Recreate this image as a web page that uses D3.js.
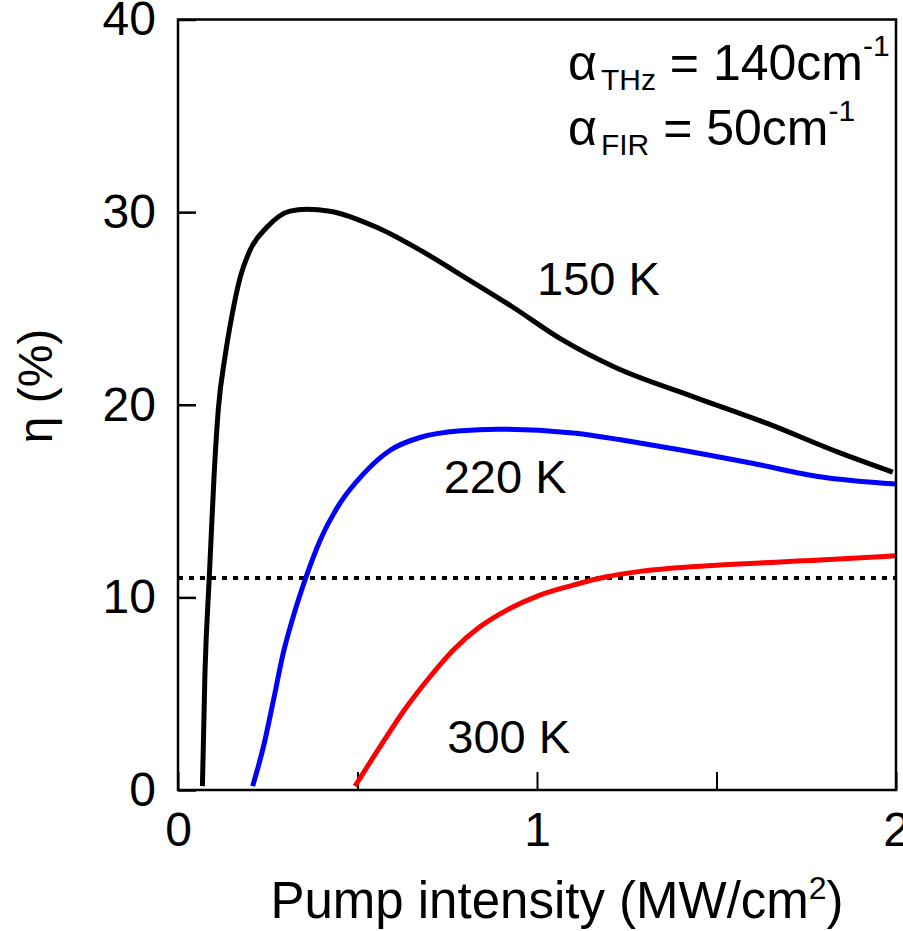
<!DOCTYPE html>
<html>
<head>
<meta charset="utf-8">
<script src="https://cdn.jsdelivr.net/npm/d3@7"></script>
<style>
  body { margin: 0; background: #fff; }
  svg { display: block; font-family: "Liberation Sans", Arial, sans-serif; }
</style>
</head>
<body>
<svg id="chart" width="903" height="931"></svg>
<script>
// ---- data ----
const xTicks = [0, 0.5, 1, 1.5, 2];
const xTickLabels = ["0", "", "1", "", "2"];
const yTicks = [0, 10, 20, 30, 40];
const yTickLabels = ["0", "10", "20", "30", "40"];

const curve150K = [
  [0.068, 0.2], [0.075, 6.0], [0.087, 11.0], [0.092, 13.0], [0.101, 16.5],
  [0.112, 19.7], [0.131, 22.5], [0.150, 24.6], [0.173, 26.6], [0.200, 28.0],
  [0.247, 29.2], [0.312, 30.05], [0.358, 30.15], [0.423, 30.05], [0.555, 29.2],
  [0.677, 28.0], [0.809, 26.5], [0.930, 25.1], [1.072, 23.35], [1.214, 21.97],
  [1.438, 20.4], [1.641, 19.03], [1.844, 17.5], [1.991, 16.5]
];
const curve220K = [
  [0.208, 0.2], [0.238, 2.25], [0.266, 4.67], [0.293, 7.09], [0.321, 9.0],
  [0.357, 11.07], [0.396, 12.97], [0.451, 14.88], [0.516, 16.4], [0.591, 17.64],
  [0.674, 18.3], [0.790, 18.65], [0.888, 18.73], [1.092, 18.55], [1.324, 17.9],
  [1.603, 16.95], [1.788, 16.26], [2.0, 15.88]
];
const curve300K = [
  [0.493, 0.2], [0.563, 2.25], [0.637, 4.32], [0.702, 5.88], [0.767, 7.27],
  [0.841, 8.47], [0.916, 9.34], [1.008, 10.12], [1.101, 10.64], [1.194, 11.07],
  [1.287, 11.35], [1.510, 11.68], [1.788, 11.94], [1.997, 12.16]
];
const thresholdLevel = 11.0;

const seriesNames = ["150 K", "220 K", "300 K"];
const seriesColors = ["#000000", "#0000ff", "#ff0000"];
const seriesData = [curve150K, curve220K, curve300K];
const seriesLabelPos = [[1.0, 25.7], [0.74, 15.4], [0.75, 1.9]];

// ---- layout ----
const svg = d3.select("#chart");
const x = d3.scaleLinear().domain([0, 2]).range([178, 896]);
const y = d3.scaleLinear().domain([0, 40]).range([790, 19.5]);

// axes (ticks inward)
const yAxis = d3.axisLeft(y).tickValues(yTicks)
  .tickFormat((d, i) => yTickLabels[i]).tickSize(-18).tickPadding(22);
const gy = svg.append("g").attr("transform", `translate(${x(0)},0)`).call(yAxis);
gy.select(".domain").remove();
gy.selectAll(".tick line").attr("stroke", "#000").attr("stroke-width", 2.5);
gy.selectAll(".tick text").attr("font-size", 48).attr("font-family", "Liberation Sans, Arial, sans-serif").attr("fill", "#000");

const xAxis = d3.axisBottom(x).tickValues(xTicks)
  .tickFormat((d, i) => xTickLabels[i]).tickSize(-18).tickPadding(22);
const gx = svg.append("g").attr("transform", `translate(0,${y(0)})`).call(xAxis);
gx.select(".domain").remove();
gx.selectAll(".tick line").attr("stroke", "#000").attr("stroke-width", 2);
gx.selectAll(".tick text").attr("font-size", 48).attr("font-family", "Liberation Sans, Arial, sans-serif").attr("fill", "#000");

// dotted threshold line
svg.append("line")
  .attr("x1", x(0)).attr("x2", x(2))
  .attr("y1", y(thresholdLevel)).attr("y2", y(thresholdLevel))
  .attr("stroke", "#000").attr("stroke-width", 4)
  .attr("stroke-dasharray", "5,6");

// curves
const line = d3.line().x(d => x(d[0])).y(d => y(d[1])).curve(d3.curveMonotoneX);
seriesData.forEach((data, i) => {
  svg.append("path").datum(data)
    .attr("d", line)
    .attr("fill", "none")
    .attr("stroke", seriesColors[i])
    .attr("stroke-width", 5)
    .attr("stroke-linejoin", "round");
});

// frame
svg.append("rect")
  .attr("x", x(0)).attr("y", y(40))
  .attr("width", x(2) - x(0)).attr("height", y(0) - y(40))
  .attr("fill", "none").attr("stroke", "#000").attr("stroke-width", 2.5);

// series labels
seriesNames.forEach((name, i) => {
  svg.append("text")
    .attr("x", x(seriesLabelPos[i][0]))
    .attr("y", y(seriesLabelPos[i][1]))
    .attr("font-size", 47)
    .attr("fill", "#000")
    .text(name);
});

// annotation
const ann = [
  { sub: "THz", val: " = 140cm", yb: 80 },
  { sub: "FIR", val: " = 50cm", yb: 145 }
];
ann.forEach(a => {
  const t = svg.append("text").attr("x", 568).attr("y", a.yb).attr("font-size", 50).attr("fill", "#000");
  t.append("tspan").text("α");
  t.append("tspan").attr("font-size", 30).attr("dx", 4).attr("dy", 10).text(a.sub);
  t.append("tspan").attr("dy", -10).text(a.val);
  t.append("tspan").attr("font-size", 30).attr("dy", -24).text("-1");
});

// axis titles
const xt = svg.append("text")
  .attr("x", 557).attr("y", 918)
  .attr("text-anchor", "middle").attr("font-size", 51).attr("fill", "#000");
xt.append("tspan").text("Pump intensity (MW/cm");
xt.append("tspan").attr("font-size", 32).attr("dy", -19).text("2");
xt.append("tspan").attr("dy", 19).text(")");

svg.append("text")
  .attr("transform", "translate(52,386) rotate(-90)")
  .attr("text-anchor", "middle").attr("font-size", 48).attr("fill", "#000")
  .text("η (%)");
</script>
</body>
</html>
